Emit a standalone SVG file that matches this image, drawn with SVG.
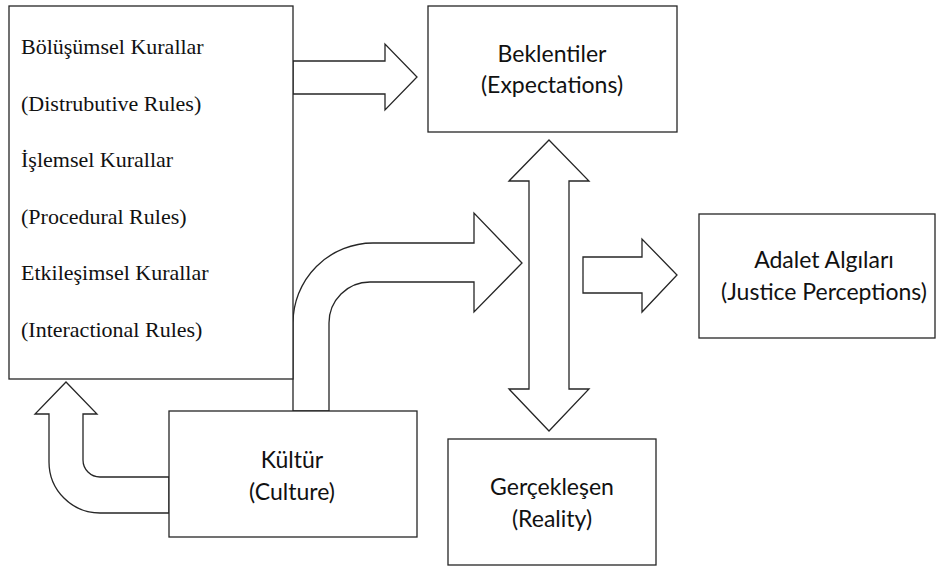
<svg xmlns="http://www.w3.org/2000/svg" width="937" height="568" viewBox="0 0 937 568">
  <style>
    .box { fill: #ffffff; stroke: #262626; stroke-width: 1.3; }
    .arrow { fill: #ffffff; stroke: #262626; stroke-width: 1.3; stroke-linejoin: miter; }
    .lbl { font-family: "Lato", "Open Sans", sans-serif; font-size: 23px; fill: #111111; text-anchor: middle; }
    .rule { font-family: "Liberation Serif", "Times New Roman", serif; font-size: 22px; fill: #111111; }
  </style>
  <rect width="937" height="568" fill="#ffffff"/>

  <g id="connectors">
    <!-- rules -> expectations -->
    <path class="arrow" d="M293,61 H385 V44 L417,77 L385,110 V94 H293 Z"/>
    <!-- culture -> bend up and right -->
    <path class="arrow" d="M293,411 V323 A80,80 0 0 1 373,243 H474 V213 L522,263 L474,312 V282 H370 A41,41 0 0 0 329,323 V411 Z"/>
    <!-- expectations <-> reality -->
    <path class="arrow" d="M549,140 L589,181 H569 V389 H589 L549,431 L509,389 H529 V181 H509 Z"/>
    <!-- -> justice perceptions -->
    <path class="arrow" d="M583,257 H642 V239 L677,275 L642,312 V293 H583 Z"/>
    <!-- culture -> rules -->
    <path class="arrow" d="M169,477 H100 A17,17 0 0 1 83,460 V414 H97 L66,382 L35,414 H49 V462 A51,51 0 0 0 100,513 H169 Z"/>
  </g>

  <g id="rules">
    <rect class="box" x="9" y="6" width="284" height="373"/>
    <text class="rule" x="21" y="54">Bölüşümsel Kurallar</text>
    <text class="rule" x="21" y="110.5">(Distrubutive Rules)</text>
    <text class="rule" x="21" y="167">İşlemsel Kurallar</text>
    <text class="rule" x="21" y="223.5">(Procedural Rules)</text>
    <text class="rule" x="21" y="280">Etkileşimsel Kurallar</text>
    <text class="rule" x="21" y="336.5">(Interactional Rules)</text>
  </g>

  <g id="expectations">
    <rect class="box" x="428" y="6" width="249" height="126"/>
    <text class="lbl" x="552" y="62">Beklentiler</text>
    <text class="lbl" x="552" y="93">(Expectations)</text>
  </g>

  <g id="justice">
    <rect class="box" x="699" y="214" width="236" height="124"/>
    <text class="lbl" x="824" y="268">Adalet Algıları</text>
    <text class="lbl" x="824" y="300">(Justice Perceptions)</text>
  </g>

  <g id="reality">
    <rect class="box" x="448" y="439" width="208" height="126"/>
    <text class="lbl" x="552" y="495">Gerçekleşen</text>
    <text class="lbl" x="552" y="527">(Reality)</text>
  </g>

  <g id="culture">
    <rect class="box" x="169" y="411" width="248" height="126"/>
    <text class="lbl" x="292" y="468">Kültür</text>
    <text class="lbl" x="292" y="500">(Culture)</text>
  </g>
</svg>
